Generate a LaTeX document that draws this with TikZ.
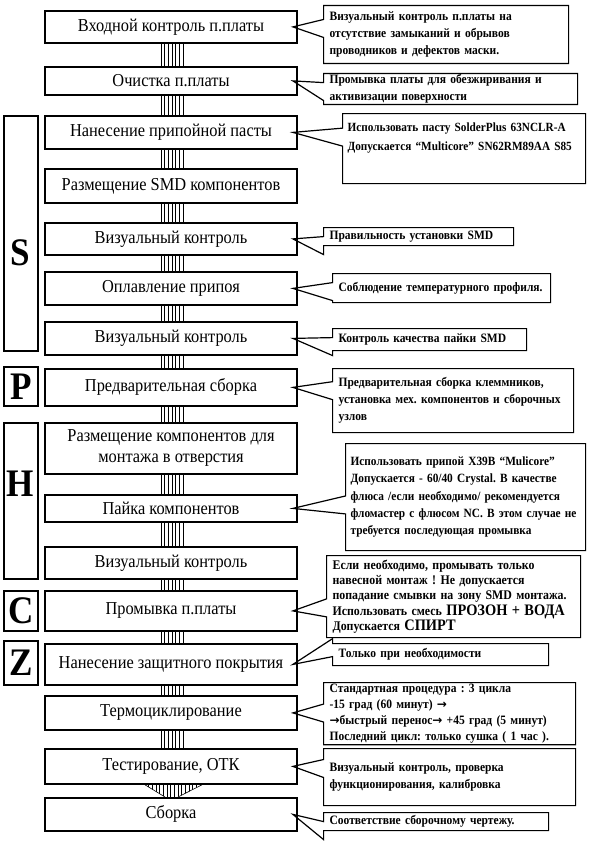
\documentclass[tikz,border=0pt]{standalone}
\usepackage{fontspec}
\setmainfont[FakeStretch=0.9]{Liberation Serif}
\newfontfamily\arrowfont{DejaVu Sans}
\newcommand{\arr}{{\arrowfont\bfseries\fontsize{12}{12}\selectfont →}}
\usetikzlibrary{shapes.callouts,calc}

\tikzset{
  stage/.style={draw, line width=1.8pt, minimum width=252pt, anchor=north, align=center, inner sep=2pt, font=\fontsize{18.2}{21}\selectfont},
  note/.style={rectangle callout, draw, line width=1.2pt, anchor=north west, align=left, inner xsep=6pt, inner ysep=1pt, callout pointer width=18pt, font=\fontsize{12.8}{17}\selectfont\bfseries},
  group/.style={draw, line width=1.8pt, minimum width=34pt, anchor=north west, inner sep=0pt, font=\fontsize{39}{40}\selectfont\bfseries},
  letter/.style={inner sep=0pt, font=\fontsize{39}{40}\selectfont\bfseries},
  stripe/.style={line width=0.6pt}
}

\begin{document}
\frenchspacing
\begin{tikzpicture}[x=1pt, y=-1pt]
\useasboundingbox (0,0) rectangle (592,843);

% main stages
\node[stage, minimum height=32pt] (b1) at (171,10) {Входной контроль п.платы};
\node[stage, minimum height=28pt] (b2) at (171,66) {Очистка п.платы};
\node[stage, minimum height=33pt] (b3) at (171,115) {Нанесение припойной пасты};
\node[stage, minimum height=34pt] (b4) at (171,168) {Размещение SMD компонентов};
\node[stage, minimum height=32pt] (b5) at (171,222) {Визуальный контроль};
\node[stage, minimum height=33pt] (b6) at (171,271) {Оплавление припоя};
\node[stage, minimum height=33pt] (b7) at (171,321) {Визуальный контроль};
\node[stage, minimum height=37pt] (b8) at (171,368) {Предварительная сборка};
\node[stage, minimum height=51pt] (b9) at (171,422) {Размещение компонентов для\\монтажа в отверстия};
\node[stage, minimum height=27pt] (b10) at (171,494) {Пайка компонентов};
\node[stage, minimum height=32pt] (b11) at (171,546) {Визуальный контроль};
\node[stage, minimum height=40pt] (b12) at (171,590) {Промывка п.платы};
\node[stage, minimum height=41pt] (b13) at (171,643) {Нанесение защитного покрытия};
\node[stage, minimum height=34pt] (b14) at (171,695) {Термоциклирование};
\node[stage, minimum height=35pt] (b15) at (171,748) {Тестирование, ОТК};
\node[stage, minimum height=33pt] (b16) at (171,797) {Сборка};

% groups
\node[group, minimum height=235pt] (s) at (3,115) {};
\node[letter] (sl) at (20,253) {S};
\node[group, minimum height=39pt] (p) at (3,366) {P};
\node[group, minimum height=156pt] (h) at (3,422) {};
\node[letter] (hl) at (20,484) {H};
\node[group, minimum height=40pt] (c) at (3,590) {C};
\node[group, minimum height=44pt] (z) at (3,640) {Z};

% striped links
\foreach \a/\b in {b1/b2,b2/b3,b3/b4,b4/b5,b5/b6,b6/b7,b7/b8,b8/b9,b9/b10,b10/b11,b11/b12,b12/b13,b13/b14,b14/b15}
  \foreach \i in {0,...,6}
    \draw[stripe] ($(\a.south)+(-10+3.667*\i,0)$) -- ($(\b.north)+(-10+3.667*\i,0)$);

\begin{scope}
\clip ($(b15.south)+(-26,0)$) -- ($(b16.north)+(-6,0)$) -- ($(b16.north)+(7,0)$) -- ($(b15.south)+(31,0)$) -- cycle;
\foreach \i in {0,...,15}
  \draw[stripe] ($(b15.south)+(-26+3.667*\i,0)$) -- ($(b16.north)+(-26+3.667*\i,0)$);
\end{scope}
\draw[stripe] ($(b15.south)+(-26,0)$) -- ($(b16.north)+(-6,0)$)
      ($(b15.south)+(31,0)$) -- ($(b16.north)+(7,0)$);

% notes
\node[note, text width=233pt, minimum height=58pt, callout absolute pointer={($(b1.east)+(-5,0)$)}] (n1) at (323,5)
  {Визуальный контроль п.платы на\\отсутствие замыканий и обрывов\\проводников и дефектов маски.};
\node[note, text width=242pt, minimum height=29pt, callout absolute pointer={($(b2.east)+(-5,0)$)}] (n2) at (323,73)
  {Промывка платы для обезжиривания и\\активизации поверхности};
\node[note, text width=233pt, inner xsep=5pt, minimum height=70pt, font=\fontsize{12.5}{19}\selectfont\bfseries, callout absolute pointer={($(b3.east)+(-5,0)$)}] (n3) at (342,113)
  {Использовать пасту SolderPlus 63NCLR-A\\Допускается “Multicore” SN62RM89AA S85\\\strut};
\node[note, text width=178pt, minimum height=18pt, callout absolute pointer={($(b5.east)+(-5,0)$)}] (n4) at (323,227)
  {Правильность установки SMD};
\node[note, text width=206pt, minimum height=29pt, callout absolute pointer={($(b6.east)+(-5,0)$)}] (n5) at (332,273)
  {Соблюдение температурного профиля.};
\node[note, text width=182pt, minimum height=22pt, callout absolute pointer={($(b7.east)+(-5,0)$)}] (n6) at (332,328)
  {Контроль качества пайки SMD};
\node[note, text width=229pt, minimum height=64pt, callout absolute pointer={($(b8.east)+(-5,0)$)}] (n7) at (332,368)
  {Предварительная сборка клеммников,\\установка мех. компонентов и сборочных\\узлов};
\node[note, text width=230pt, inner xsep=5pt, minimum height=107pt, font=\fontsize{12.6}{17.3}\selectfont\bfseries, callout absolute pointer={($(b10.east)+(-5,0)$)}] (n8) at (345,443)
  {Использовать припой X39B “Mulicore”\\Допускается - 60/40 Crystal. В качестве\\флюса /если необходимо/ рекомендуется\\фломастер с флюсом NC. В этом случае не\\требуется последующая промывка};
\node[note, text width=242pt, minimum height=82pt, font=\fontsize{13.2}{15.3}\selectfont\bfseries, callout absolute pointer={($(b12.east)+(-5,0)$)}] (n9) at (326,555)
  {Если необходимо, промывать только\\навесной монтаж ! Не допускается\\попадание смывки на зону SMD монтажа.\\Использовать смесь {\fontsize{16}{15}\selectfont ПРОЗОН + ВОДА}\\Допускается {\fontsize{16}{15}\selectfont СПИРТ}};
\node[note, text width=204pt, minimum height=22pt, callout absolute pointer={($(b13.east)+(-5,0)$)}] (n10) at (332,643)
  {Только при необходимости};
\node[note, text width=240pt, minimum height=61pt, font=\fontsize{12.8}{16.3}\selectfont\bfseries, callout absolute pointer={($(b14.east)+(-5,0)$)}] (n11) at (323,682)
  {Стандартная процедура : 3 цикла\\-15 град (60 минут) \arr\\\arr быстрый перенос\arr\ +45 град (5 минут)\\Последний цикл: только сушка ( 1 час ).};
\node[note, text width=240pt, minimum height=57pt, callout absolute pointer={($(b15.east)+(-5,0)$)}] (n12) at (323,748)
  {Визуальный контроль, проверка\\функционирования, калибровка};
\node[note, text width=213pt, minimum height=18pt, callout absolute pointer={($(b16.east)+(-5,0)$)}] (n13) at (323,812)
  {Соответствие сборочному чертежу.};

\end{tikzpicture}
\end{document}
